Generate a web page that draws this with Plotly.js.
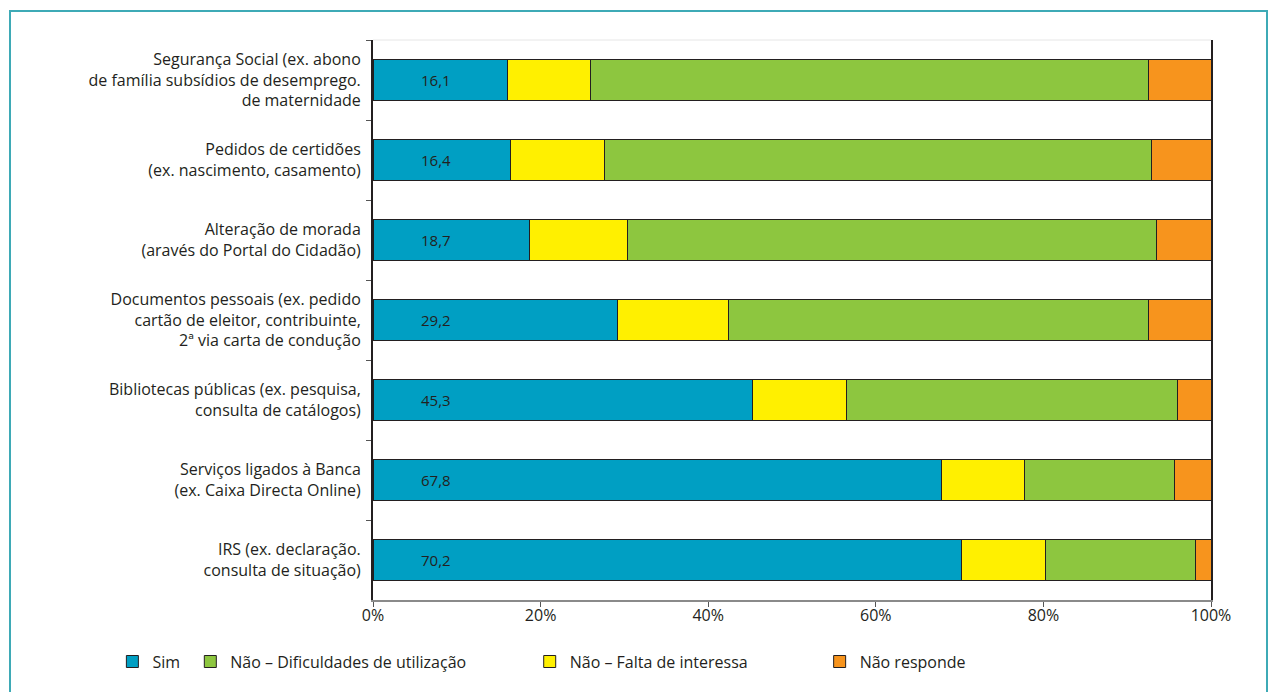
<!DOCTYPE html>
<html>
<head>
<meta charset="utf-8">
<script src="https://cdn.plot.ly/plotly-3.0.1.min.js"></script>
<style>
  html, body { margin: 0; padding: 0; background: #fff; overflow: hidden; }
  #frame { position: absolute; left: 9px; top: 10px; width: 1259px; height: 720px;
           border: 2px solid #3eaab6; box-sizing: border-box; pointer-events: none; }
  #chart { position: absolute; left: 0; top: 0; width: 1281px; height: 692px; }
</style>
</head>
<body>
<div id="chart"></div>
<div id="frame"></div>
<script>
// Online public services: share of respondents per answer (%)
const categories = [
  'Segurança Social (ex. abono<br>de família subsídios de desemprego.<br>de maternidade',
  'Pedidos de certidões<br>(ex. nascimento, casamento)',
  'Alteração de morada<br>(aravés do Portal do Cidadão)',
  'Documentos pessoais (ex. pedido<br>cartão de eleitor, contribuinte,<br>2ª via carta de condução',
  'Bibliotecas públicas (ex. pesquisa,<br>consulta de catálogos)',
  'Serviços ligados à Banca<br>(ex. Caixa Directa Online)',
  'IRS (ex. declaração.<br>consulta de situação)'
];
const sim           = [16.1, 16.4, 18.7, 29.2, 45.3, 67.8, 70.2];
const faltaInteress = [9.9, 11.2, 11.7, 13.2, 11.2, 9.9, 10.0];
const dificuldades  = [66.5, 65.3, 63.1, 50.2, 39.5, 18.0, 18.0];
const naoResponde   = [7.5, 7.1, 6.5, 7.4, 4.0, 4.3, 1.8];
const xTicks = [0, 20, 40, 60, 80, 100];

const seriesNames = ['Sim', 'Não – Dificuldades de utilização', 'Não – Falta de interessa', 'Não responde'];

const outline = { color: '#231f20', width: 1 };
const font = 'Open Sans, Noto Sans, sans-serif';

function barTrace(name, values, color, legendId) {
  return {
    type: 'bar', orientation: 'h', name: name,
    x: values, y: categories,
    marker: { color: color, line: outline },
    legend: legendId, hoverinfo: 'x+name'
  };
}

// stacking order: Sim, falta de interesse, dificuldades, não responde
const traces = [
  barTrace(seriesNames[0], sim, '#009fc3', 'legend'),
  barTrace(seriesNames[2], faltaInteress, '#fff000', 'legend3'),
  barTrace(seriesNames[1], dificuldades, '#8dc63f', 'legend2'),
  barTrace(seriesNames[3], naoResponde, '#f7941d', 'legend4')
];

// value labels for the "Sim" segment
const annotations = categories.map((c, i) => ({
  x: 7.5, y: c, xref: 'x', yref: 'y',
  text: sim[i].toFixed(1).replace('.', ','),
  showarrow: false, xanchor: 'center', yanchor: 'middle',
  font: { family: font, size: 15, color: '#231f20' }
}));

const legendBase = {
  orientation: 'h', yanchor: 'middle', xanchor: 'left', y: -0.11,
  font: { family: font, size: 16, color: '#231f20' },
  bgcolor: 'rgba(0,0,0,0)', borderwidth: 0
};

const layout = {
  width: 1281, height: 692,
  margin: { l: 373, r: 70, t: 40, b: 92 },
  paper_bgcolor: '#ffffff', plot_bgcolor: '#ffffff',
  barmode: 'stack', bargap: 0.49,
  font: { family: font, size: 16, color: '#231f20' },
  xaxis: {
    range: [0, 100], tickvals: xTicks, ticktext: xTicks.map(v => v + '%'),
    showgrid: false, zeroline: false,
    showline: true, linecolor: '#8a8a8a', linewidth: 2,
    ticks: 'outside', ticklen: 5, tickcolor: '#555', tickwidth: 1,
    ticklabelstandoff: -5,
    tickfont: { family: font, size: 16, color: '#231f20' }
  },
  yaxis: {
    type: 'category', autorange: 'reversed',
    showgrid: false, zeroline: false,
    showline: true, linecolor: '#231f20', linewidth: 2, mirror: true,
    ticks: 'outside', ticklen: 5, tickcolor: '#555', tickwidth: 1,
    tickson: 'boundaries', ticklabelstandoff: 7,
    tickfont: { family: font, size: 16, color: '#231f20' }
  },
  shapes: [{
    type: 'line', xref: 'paper', yref: 'paper', x0: 0, x1: 1, y0: 1, y1: 1,
    line: { color: '#e6e6e6', width: 1 }
  }],
  annotations: annotations,
  showlegend: true,
  legend:  Object.assign({}, legendBase, { x: -0.311 }),
  legend2: Object.assign({}, legendBase, { x: -0.218 }),
  legend3: Object.assign({}, legendBase, { x: 0.187 }),
  legend4: Object.assign({}, legendBase, { x: 0.533 })
};

Plotly.newPlot('chart', traces, layout, { displayModeBar: false, staticPlot: true });
</script>
</body>
</html>
